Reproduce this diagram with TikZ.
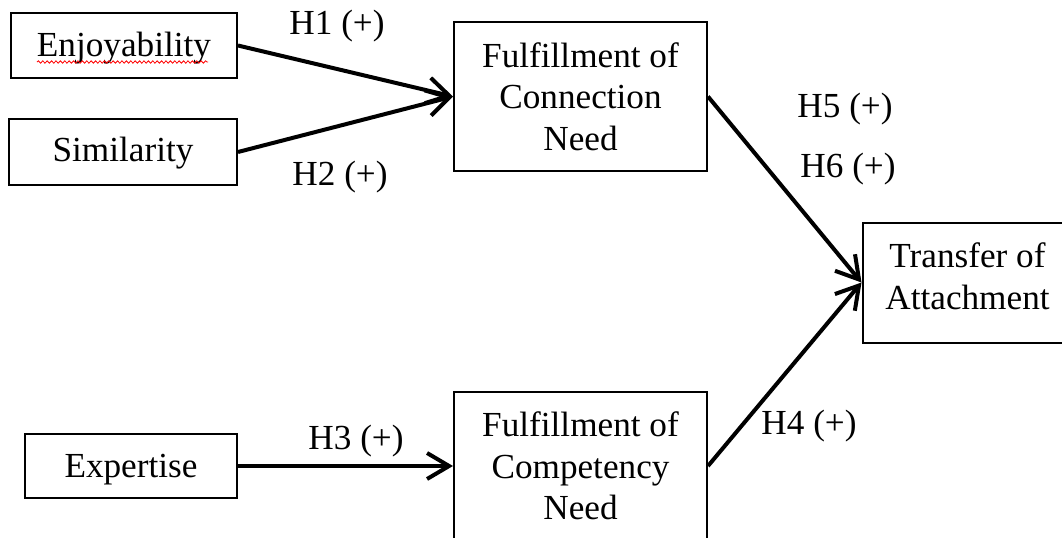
\documentclass[tikz,border=0pt]{standalone}
\usepackage{fontspec}
\setmainfont{Liberation Serif}
\usetikzlibrary{arrows.meta,decorations.pathmorphing}
\begin{document}
\begin{tikzpicture}[x=0.5pt,y=-0.5pt,
  box/.style={draw, line width=1pt, inner sep=0pt},
  txt/.style={inner sep=0pt, align=center, font=\fontsize{17.6}{20.75}\selectfont},
  lbl/.style={inner sep=0pt, yshift=-1.6pt, font=\fontsize{17.6}{20.75}\selectfont},
  link/.style={line width=2pt, -{Straight Barb[length=11pt,width=13pt,line width=2pt]}},
  squiggle/.style={red, line width=0.4pt, decorate, decoration={snake, amplitude=0.6pt, segment length=2.2pt}}]
\useasboundingbox (0,0) rectangle (1062,537);
\clip (0,0) rectangle (1062,537);
\node[box, minimum width=113pt, minimum height=32.5pt,
  label={[txt,yshift=-1.35pt]center:Enjoyability}] (enj) at (124,45.5) {};
\node[box, minimum width=114pt, minimum height=33pt,
  label={[txt,yshift=-0.6pt]center:Similarity}] (sim) at (123,152) {};
\node[box, minimum width=106pt, minimum height=32pt,
  label={[txt,yshift=-1.85pt]center:Expertise}] (exp) at (131,466) {};
\node[box, minimum width=126.5pt, minimum height=74.5pt,
  label={[txt]center:{Fulfillment of\\Connection\\Need}}] (conn) at (580.5,96.5) {};
\node[box, minimum width=126.5pt, minimum height=74pt,
  label={[txt]center:{Fulfillment of\\Competency\\Need}}] (comp) at (580.5,466) {};
\node[box, minimum width=105pt, minimum height=60pt,
  label={[txt,yshift=3pt]center:{Transfer of\\Attachment}}] (trans) at (967.5,282.5) {};
\draw[link] (enj.east) -- (conn.west);
\draw[link] (sim.east) -- (conn.west);
\draw[link] (exp.east) -- (comp.west);
\draw[link] (conn.east) -- (trans.west);
\draw[link] (comp.east) -- (trans.west);
\node[lbl] (h1) at (337,23) {H1 (+)};
\node[lbl] (h2) at (340,173.5) {H2 (+)};
\node[lbl] (h3) at (356,438.3) {H3 (+)};
\node[lbl] (h4) at (809,423) {H4 (+)};
\node[lbl] (h5) at (845,106) {H5 (+)};
\node[lbl] (h6) at (848,166) {H6 (+)};
\draw[squiggle] (37,62) -- (208,62);
\end{tikzpicture}
\end{document}
